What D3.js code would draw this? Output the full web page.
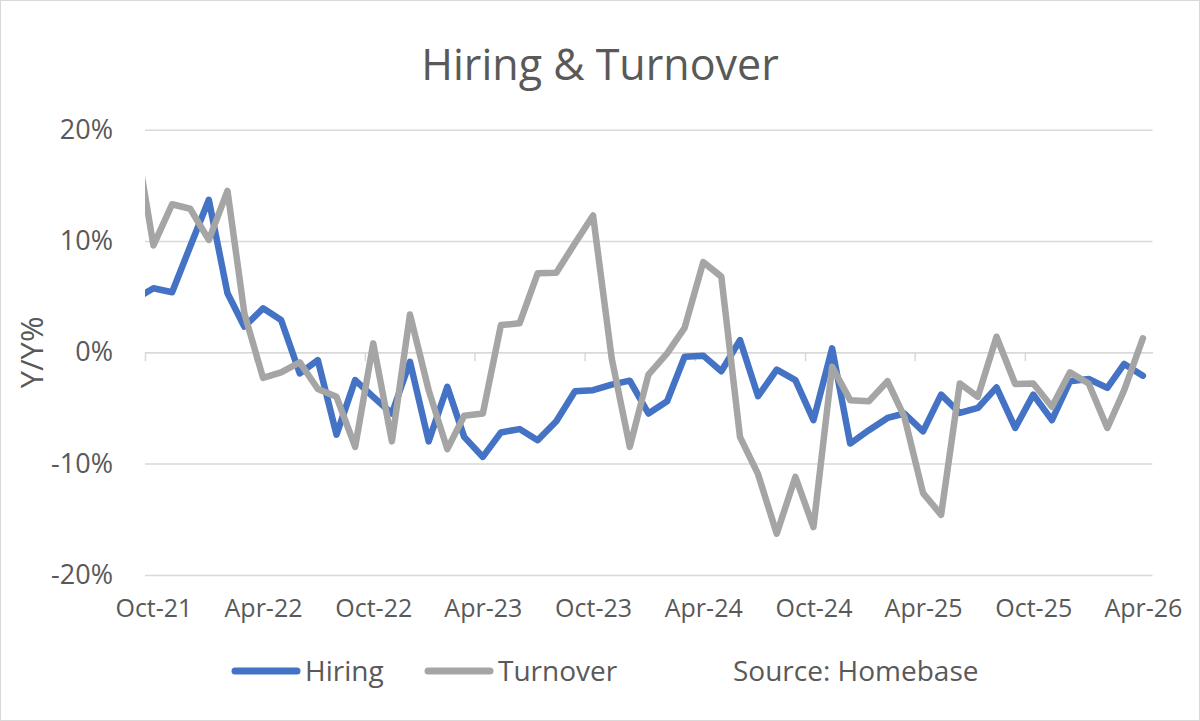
<!DOCTYPE html>
<html>
<head>
<meta charset="utf-8">
<script src="https://cdn.jsdelivr.net/npm/d3@7"></script>
<style>
  body { margin: 0; background: #fff; }
  text { font-family: "Open Sans", sans-serif; fill: #595959; }
</style>
</head>
<body>
<script>
// monthly readings (Y/Y %), first month sits just left of the plot and gets clipped
const months = ["Sep-21",
  "Oct-21","Nov-21","Dec-21","Jan-22","Feb-22","Mar-22","Apr-22","May-22","Jun-22","Jul-22","Aug-22","Sep-22",
  "Oct-22","Nov-22","Dec-22","Jan-23","Feb-23","Mar-23","Apr-23","May-23","Jun-23","Jul-23","Aug-23","Sep-23",
  "Oct-23","Nov-23","Dec-23","Jan-24","Feb-24","Mar-24","Apr-24","May-24","Jun-24","Jul-24","Aug-24","Sep-24",
  "Oct-24","Nov-24","Dec-24","Jan-25","Feb-25","Mar-25","Apr-25","May-25","Jun-25","Jul-25","Aug-25","Sep-25",
  "Oct-25","Nov-25","Dec-25","Jan-26","Feb-26","Mar-26","Apr-26"]

const hiring = [4.8,
  5.75, 5.4, 9.5, 13.7, 5.3, 2.3, 3.95, 2.9, -1.9, -0.7, -7.4, -2.5,
  -4.0, -5.5, -0.85, -8.0, -3.1, -7.6, -9.4, -7.2, -6.9, -7.9, -6.2, -3.5,
  -3.4, -2.9, -2.55, -5.5, -4.4, -0.4, -0.3, -1.7, 1.1, -3.95, -1.55, -2.5,
  -6.1, 0.35, -8.2, -7.0, -5.9, -5.5, -7.1, -3.8, -5.45, -5.0, -3.15, -6.8,
  -3.8, -6.1, -2.6, -2.4, -3.2, -1.05, -2.1]

const turnover = [19.3,
  9.6, 13.3, 12.9, 10.1, 14.5, 3.5, -2.3, -1.8, -0.9, -3.3, -4.0, -8.5,
  0.8, -8.0, 3.4, -3.4, -8.7, -5.7, -5.5, 2.45, 2.6, 7.1, 7.15, 9.8,
  12.3, -0.55, -8.5, -2.0, -0.1, 2.2, 8.1, 6.8, -7.6, -10.95, -16.3, -11.2,
  -15.7, -1.3, -4.3, -4.4, -2.6, -5.8, -12.65, -14.6, -2.8, -4.0, 1.4, -2.85,
  -2.8, -4.9, -1.8, -2.8, -6.8, -3.4, 1.25]

const tickLabels = ["Oct-21","Apr-22","Oct-22","Apr-23","Oct-23","Apr-24","Oct-24","Apr-25","Oct-25","Apr-26"]
const yTicks = [-20, -10, 0, 10, 20]

const W = 1200, H = 721
const pLeft = 145, pRight = 1152.5, pTop = 129.7, pBottom = 574.9
const grid = "#d9d9d9"

const parse = d3.timeParse("%b-%y")
const mid = s => d3.timeDay.offset(parse(s), 14) // values plotted mid-month

const svg = d3.select("body").append("svg")
  .attr("width", W)
  .attr("height", H)

// chart border
svg.append("rect")
   .attr("x", 0.5).attr("y", 0.5)
   .attr("width", W - 1).attr("height", H - 1)
   .attr("fill", "#fff")
   .attr("stroke", grid)

const x = d3.scaleTime()
  .domain([parse("Oct-21"), parse("May-26")])
  .range([pLeft, pRight])

const y = d3.scaleLinear()
  .domain([-20, 20])
  .range([pBottom, pTop])

// gridlines + y labels
const yAxis = svg.append("g")
  .attr("transform", `translate(${pLeft},0)`)
  .call(d3.axisLeft(y)
    .tickValues(yTicks)
    .tickSize(-(pRight - pLeft))
    .tickPadding(32)
    .tickFormat(d => d + "%"))
yAxis.select(".domain").remove()
yAxis.selectAll("line").attr("stroke", grid).attr("stroke-width", 1.5)
yAxis.selectAll("text")
  .style("font-size", "27px")
  .style("font-family", "Open Sans")
  .attr("fill", "#595959")

// category axis on the zero line: tick marks every 6 months
const xAxis = svg.append("g")
  .attr("transform", `translate(0,${y(0)})`)
  .call(d3.axisBottom(x)
    .tickValues(tickLabels.map(parse))
    .tickSizeInner(9)
    .tickSizeOuter(0)
    .tickFormat(""))
xAxis.select(".domain").attr("stroke", grid).attr("stroke-width", 1.5)
xAxis.selectAll("line").attr("stroke", grid).attr("stroke-width", 1.5)

// labels sit at the bottom of the plot, centered on the month
const xLabels = svg.append("g")
  .attr("transform", `translate(0,${pBottom + 21})`)
  .call(d3.axisBottom(x)
    .tickValues(tickLabels.map(mid))
    .tickSize(0)
    .tickFormat(d3.timeFormat("%b-%y")))
xLabels.select(".domain").remove()
xLabels.selectAll("text")
  .style("font-size", "25px")
  .style("font-family", "Open Sans")
  .attr("fill", "#595959")

// y title
svg.append("text")
   .attr("transform", `translate(43,${(pTop + pBottom) / 2}) rotate(-90)`)
   .attr("text-anchor", "middle")
   .style("font-size", "31px")
   .text("Y/Y%")

// title
svg.append("text")
   .attr("x", 600)
   .attr("y", 80)
   .attr("text-anchor", "middle")
   .style("font-size", "43px")
   .text("Hiring & Turnover")

svg.append("clipPath").attr("id", "plot")
   .append("rect")
   .attr("x", pLeft).attr("y", 0)
   .attr("width", pRight - pLeft).attr("height", H)

const line = d3.line()
  .x((d, i) => x(mid(months[i])))
  .y(d => y(d))

const series = [
  { name: "Hiring", values: hiring, color: "#4472c4" },
  { name: "Turnover", values: turnover, color: "#a5a5a5" }
]

svg.append("g").attr("clip-path", "url(#plot)")
   .selectAll("path")
   .data(series)
   .enter()
   .append("path")
   .attr("d", d => line(d.values))
   .attr("fill", "none")
   .attr("stroke", d => d.color)
   .attr("stroke-width", 6.5)
   .attr("stroke-linejoin", "round")
   .attr("stroke-linecap", "round")

// legend
const legX = [235, 428]
const leg = svg.selectAll(".leg")
  .data(series)
  .enter()
  .append("g")
  .attr("transform", (d, i) => `translate(${legX[i]},671)`)
leg.append("line")
   .attr("x1", 0).attr("x2", 62)
   .attr("stroke", d => d.color)
   .attr("stroke-width", 7)
   .attr("stroke-linecap", "round")
leg.append("text")
   .attr("x", 70)
   .attr("y", 10)
   .style("font-size", "28px")
   .text(d => d.name)

svg.append("text")
   .attr("x", 733)
   .attr("y", 681)
   .style("font-size", "28px")
   .text("Source: Homebase")
</script>
</body>
</html>
